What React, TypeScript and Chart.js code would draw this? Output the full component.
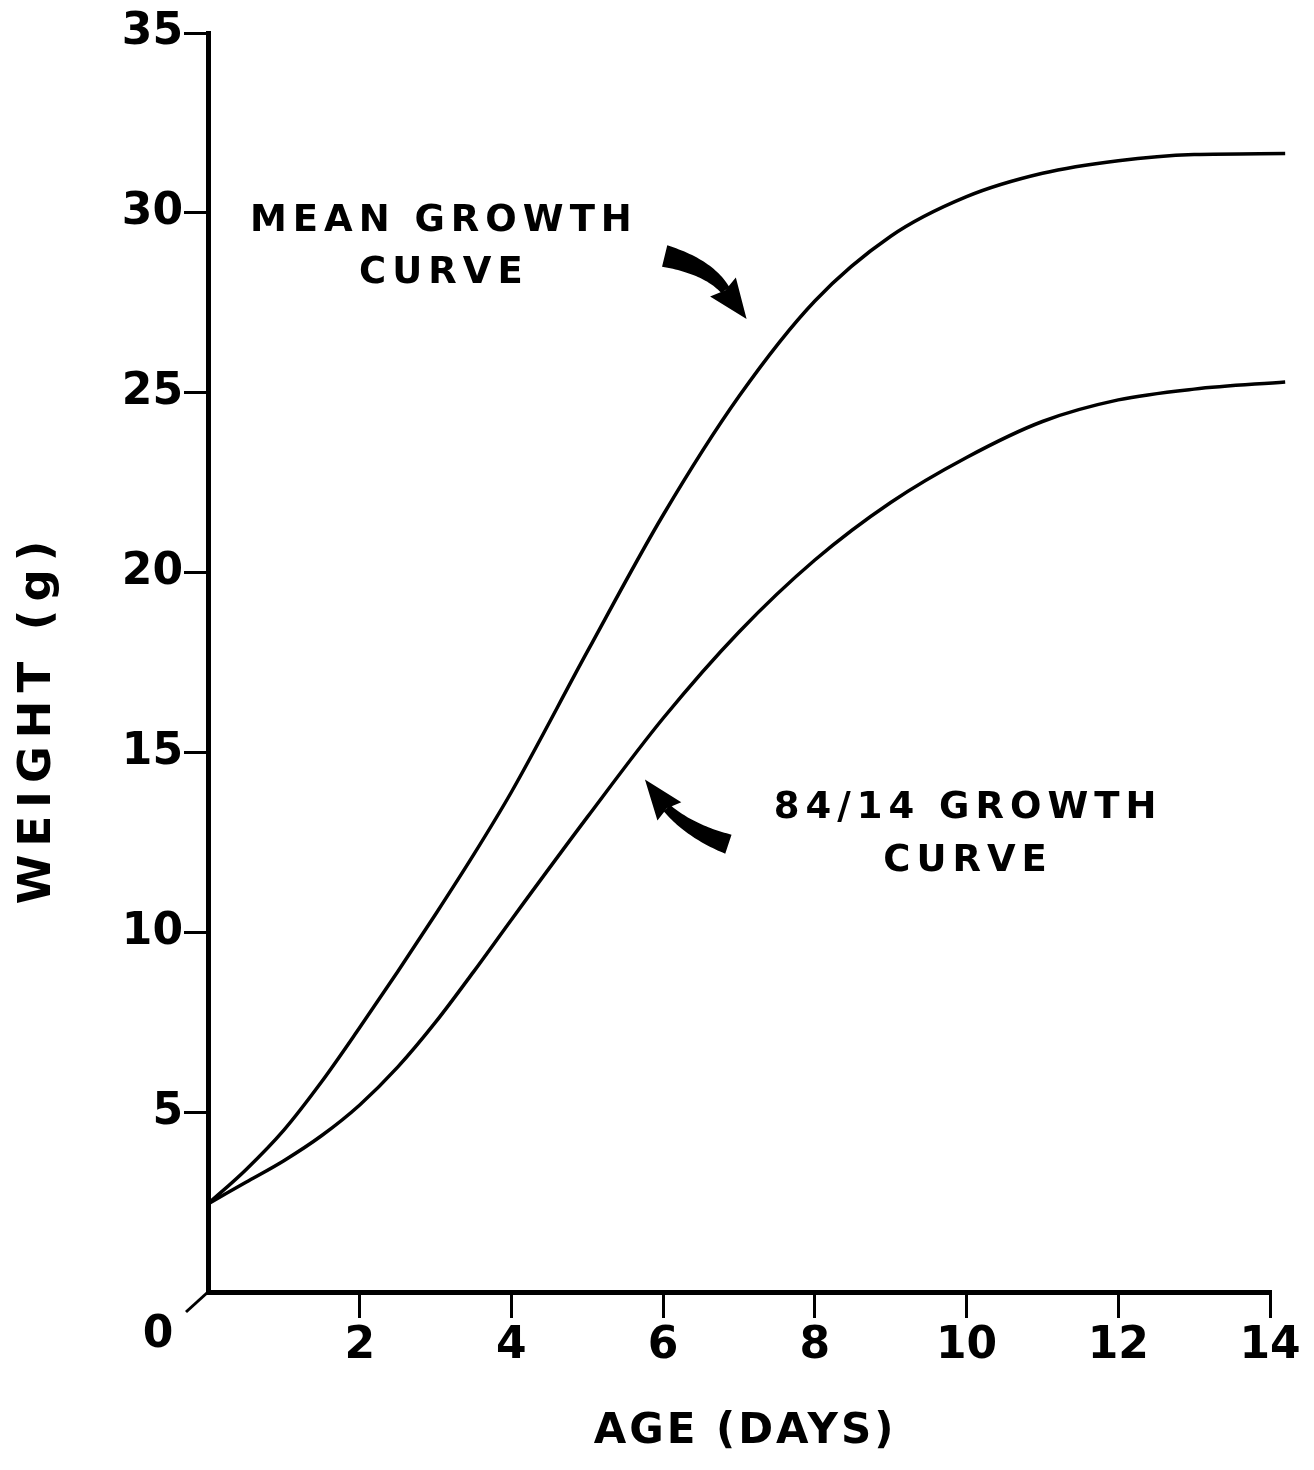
import React, { useEffect, useRef } from "react";
import { Chart, registerables, LinearScale } from "chart.js";

Chart.register(...registerables);

// ---------- data ----------
const AGE_DAYS = [0, 0.5, 1, 1.5, 2, 2.5, 3, 3.5, 4, 5, 6, 7, 8, 9, 10, 11, 12, 13, 14.2];
const MEAN_GROWTH = [2.45, 3.4, 4.5, 5.85, 7.35, 8.9, 10.5, 12.15, 13.9, 17.8, 21.6, 24.9, 27.55, 29.35, 30.45, 31.1, 31.45, 31.62, 31.65];
const GROWTH_84_14 = [2.45, 3.05, 3.65, 4.35, 5.2, 6.25, 7.5, 8.9, 10.35, 13.2, 15.95, 18.35, 20.35, 21.95, 23.2, 24.2, 24.8, 25.1, 25.3];
const X_RANGE = [0, 14];
const X_STEP = 2;
const Y_RANGE = [0, 35];
const Y_STEP = 5;
const X_TITLE = "AGE (DAYS)";
const Y_TITLE = "WEIGHT (g)";
const LABEL_MEAN = ["MEAN GROWTH", "CURVE"];
const LABEL_8414 = ["84/14 GROWTH", "CURVE"];

const FONT = "'DejaVu Sans', sans-serif";

// annotation placement (data units)
const TEXT_NOTES = [
  { lines: LABEL_MEAN, x: 3.07, y: 29.75, gap: 1.42 },
  { lines: LABEL_8414, x: 9.98, y: 13.45, gap: 1.47 },
];
const ARROWS = [
  // tail, control, head base, tip
  { p0: [6.02, 28.8], c: [6.6, 28.5], p1: [6.82, 27.85], tip: [7.1, 27.05], w0: 22, w1: 10, hw: 32 },
  { p0: [6.86, 12.45], c: [6.36, 12.8], p1: [6.05, 13.45], tip: [5.76, 14.25], w0: 20, w1: 9, hw: 30 },
];

// ---------- scale with spaced titles ----------
const TITLE_STYLE: Record<string, { spacing: string; dx: number; dy: number }> = {
  x: { spacing: "3px", dx: 6, dy: 0 },
  y: { spacing: "8px", dx: 0, dy: 56 },
};

class SpacedLinearScale extends (LinearScale as any) {
  static id = "spacedLinear";
  static defaults = (LinearScale as any).defaults;
  drawTitle() {
    const ctx = (this as any).ctx;
    const st = TITLE_STYLE[(this as any).id];
    ctx.save();
    if (st) {
      ctx.letterSpacing = st.spacing;
      ctx.translate(st.dx, st.dy);
    }
    super.drawTitle();
    ctx.restore();
  }
}
Chart.register(SpacedLinearScale as any);

function drawArrow(chart: any, a: any) {
  const { ctx, scales } = chart;
  const P = (p: number[]) => [scales.x.getPixelForValue(p[0]), scales.y.getPixelForValue(p[1])];
  const p0 = P(a.p0), c = P(a.c), p1 = P(a.p1), tip = P(a.tip);
  const N = 30;
  const left: number[][] = [];
  const right: number[][] = [];
  for (let i = 0; i <= N; i++) {
    const t = i / N;
    const x = (1 - t) * (1 - t) * p0[0] + 2 * (1 - t) * t * c[0] + t * t * p1[0];
    const y = (1 - t) * (1 - t) * p0[1] + 2 * (1 - t) * t * c[1] + t * t * p1[1];
    const dx = 2 * (1 - t) * (c[0] - p0[0]) + 2 * t * (p1[0] - c[0]);
    const dy = 2 * (1 - t) * (c[1] - p0[1]) + 2 * t * (p1[1] - c[1]);
    const len = Math.hypot(dx, dy) || 1;
    const nx = -dy / len, ny = dx / len;
    const w = (a.w0 + (a.w1 - a.w0) * t) / 2;
    left.push([x + nx * w, y + ny * w]);
    right.push([x - nx * w, y - ny * w]);
  }
  ctx.save();
  ctx.fillStyle = "#000";
  ctx.beginPath();
  ctx.moveTo(left[0][0], left[0][1]);
  for (const p of left) ctx.lineTo(p[0], p[1]);
  for (let i = right.length - 1; i >= 0; i--) ctx.lineTo(right[i][0], right[i][1]);
  ctx.closePath();
  ctx.fill();
  const hx = tip[0] - p1[0], hy = tip[1] - p1[1];
  const hl = Math.hypot(hx, hy) || 1;
  const nx = -hy / hl, ny = hx / hl;
  const back = 4;
  const bx = p1[0] - (hx / hl) * back, by = p1[1] - (hy / hl) * back;
  ctx.beginPath();
  ctx.moveTo(tip[0], tip[1]);
  ctx.lineTo(bx + (nx * a.hw) / 2, by + (ny * a.hw) / 2);
  ctx.lineTo(p1[0], p1[1]);
  ctx.lineTo(bx - (nx * a.hw) / 2, by - (ny * a.hw) / 2);
  ctx.closePath();
  ctx.fill();
  ctx.restore();
}

const decorPlugin = {
  id: "decor",
  afterDraw(chart: any) {
    const { ctx, scales } = chart;
    const ox = scales.x.getPixelForValue(0);
    const oy = scales.y.getPixelForValue(0);
    ctx.save();
    ctx.strokeStyle = "#000";
    ctx.lineWidth = 3;
    ctx.beginPath();
    ctx.moveTo(ox, oy);
    ctx.lineTo(ox - 22, oy + 20);
    ctx.stroke();
    ctx.fillStyle = "#000";
    ctx.font = `bold 44px ${FONT}`;
    ctx.textAlign = "center";
    ctx.textBaseline = "middle";
    ctx.fillText("0", ox - 50, oy + 44);
    ctx.font = `bold 37px ${FONT}`;
    (ctx as any).letterSpacing = "6px";
    for (const n of TEXT_NOTES) {
      n.lines.forEach((line, i) => {
        ctx.fillText(line, scales.x.getPixelForValue(n.x) + 3, scales.y.getPixelForValue(n.y - i * n.gap));
      });
    }
    (ctx as any).letterSpacing = "0px";
    ctx.restore();
    for (const a of ARROWS) drawArrow(chart, a);
  },
};

export default function App() {
  const ref = useRef<HTMLCanvasElement>(null);
  useEffect(() => {
    document.body.style.margin = "0";
    const canvas = ref.current!;
    const hideZero = (c: any) => (c.tick && c.tick.value === 0 ? "rgba(0,0,0,0)" : "#000");
    const lineStyle = {
      borderColor: "#000",
      borderWidth: 3.5,
      pointRadius: 0,
      cubicInterpolationMode: "monotone",
      fill: false,
      clip: false,
    };
    const chart = new Chart(canvas, {
      type: "line",
      data: {
        datasets: [
          { label: "Mean growth curve", data: AGE_DAYS.map((x, i) => ({ x, y: MEAN_GROWTH[i] })), ...lineStyle } as any,
          { label: "84/14 growth curve", data: AGE_DAYS.map((x, i) => ({ x, y: GROWTH_84_14[i] })), ...lineStyle } as any,
        ],
      },
      options: {
        responsive: false,
        animation: false,
        devicePixelRatio: 1,
        events: [],
        layout: { padding: { top: 33, right: 44, left: 0, bottom: 0 } },
        plugins: {
          legend: { display: false },
          tooltip: { enabled: false },
          title: { display: false },
        },
        scales: {
          x: {
            type: "spacedLinear" as any,
            min: X_RANGE[0],
            max: X_RANGE[1],
            afterFit: (s: any) => {
              s.height = 178;
            },
            grid: { drawOnChartArea: false, drawTicks: true, tickLength: 26, lineWidth: 3, color: hideZero },
            border: { display: true, color: "#000", width: 5 },
            ticks: {
              stepSize: X_STEP,
              padding: 2,
              color: "#000",
              autoSkip: false,
              maxRotation: 0,
              font: { family: FONT, size: 44, weight: "bold" },
              callback: (v: any) => (v === 0 ? "" : String(v)),
            },
            title: {
              display: true,
              text: X_TITLE,
              color: "#000",
              font: { family: FONT, size: 42, weight: "bold" },
              padding: { top: 0, bottom: 13 },
            },
          },
          y: {
            type: "spacedLinear" as any,
            min: Y_RANGE[0],
            max: Y_RANGE[1],
            afterFit: (s: any) => {
              s.width = 208;
            },
            grid: { drawOnChartArea: false, drawTicks: true, tickLength: 24, lineWidth: 3, color: hideZero },
            border: { display: true, color: "#000", width: 5 },
            ticks: {
              stepSize: Y_STEP,
              padding: 1,
              color: "#000",
              font: { family: FONT, size: 44, weight: "bold" },
              callback: (v: any) => (v === 0 ? "" : String(v)),
            },
            title: {
              display: true,
              text: Y_TITLE,
              color: "#000",
              font: { family: FONT, size: 45, weight: "bold" },
              padding: { top: 11, bottom: 0 },
            },
          },
        },
      } as any,
      plugins: [decorPlugin],
    });
    return () => chart.destroy();
  }, []);
  return (
    <div style={{ width: 1314, height: 1470 }}>
      <canvas ref={ref} width={1314} height={1470} style={{ display: "block" }} />
    </div>
  );
}
